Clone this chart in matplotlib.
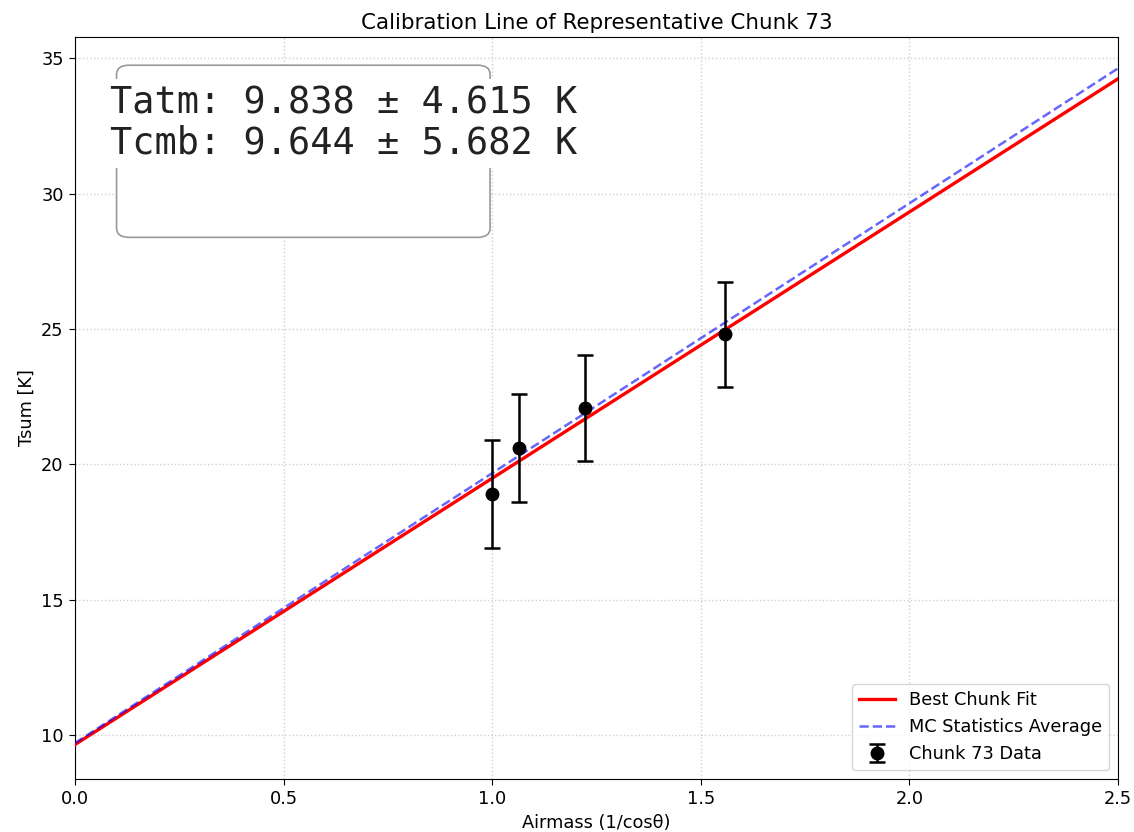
import matplotlib.pyplot as plt
import numpy as np
from matplotlib.patches import FancyBboxPatch

# Chunk 73 data
airmass = [1.0, 1.064, 1.222, 1.558]
tsum = [18.9, 20.6, 22.08, 24.8]
tsum_err = [2.0, 2.0, 1.97, 1.95]

# fit parameters (slope = Tatm, intercept = Tcmb)
tatm, tatm_err = 9.838, 4.615
tcmb, tcmb_err = 9.644, 5.682
mc_slope, mc_intercept = 9.97, 9.70

x_line = np.linspace(0, 2.5, 200)

plt.rcParams["font.size"] = 12.8
plt.rcParams["xtick.major.size"] = 4.5
plt.rcParams["ytick.major.size"] = 4.5

fig, ax = plt.subplots(figsize=(11.34, 8.32), dpi=100)
fig.subplots_adjust(left=0.066, right=0.986, bottom=0.0637, top=0.9555)

ax.plot(x_line, tatm * x_line + tcmb, color="red", lw=2.4, label="Best Chunk Fit", zorder=3)
ax.plot(x_line, mc_slope * x_line + mc_intercept, color="blue", ls="--", lw=1.8,
        alpha=0.6, label="MC Statistics Average", zorder=3)
ax.errorbar(airmass, tsum, yerr=tsum_err, fmt="o", color="black", ms=9,
            elinewidth=1.8, capsize=6, capthick=1.8, label="Chunk 73 Data", zorder=4)

ax.set_xlim(0, 2.5)
ax.set_ylim(8.375, 35.78)
ax.set_title("Calibration Line of Representative Chunk 73", fontsize=15.4)
ax.set_xlabel("Airmass (1/cosθ)")
ax.set_ylabel("Tsum [K]")
ax.grid(True, ls=":", color="#d0d0d0", lw=1)
ax.legend(loc="lower right")

# results box
box = FancyBboxPatch((0.04, 0.73), 0.358, 0.232, boxstyle="round,pad=0,rounding_size=0.012",
                     transform=ax.transAxes, facecolor="white", edgecolor="#999999",
                     lw=1.2, zorder=5)
ax.add_patch(box)
ax.text(0.0336, 0.936,
        f"Tatm: {tatm:.3f} ± {tatm_err:.3f} K\nTcmb: {tcmb:.3f} ± {tcmb_err:.3f} K",
        transform=ax.transAxes, family="DejaVu Sans Mono", fontsize=26.6, va="top",
        ha="left", color="#222222", linespacing=1.12, zorder=6,
        bbox=dict(facecolor="white", edgecolor="none", pad=4))

plt.savefig("out.png")
